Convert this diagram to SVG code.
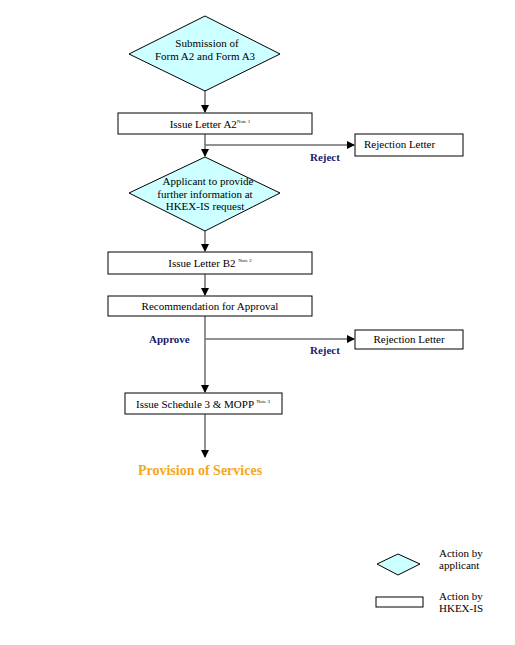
<svg xmlns="http://www.w3.org/2000/svg" width="515" height="645" viewBox="0 0 515 645">
<defs>
<marker id="ah" markerWidth="8" markerHeight="8" refX="7" refY="4" orient="auto" markerUnits="userSpaceOnUse">
<path d="M0,0 L8,4 L0,8 Z" fill="#000"/>
</marker>
<style>
.dia{fill:#CCFFFF;stroke:#000;stroke-width:1}
.box{fill:#fff;stroke:#000;stroke-width:1}
.t{font-size:11px;fill:#000}
.c{text-anchor:middle}
.sup{font-size:5px}
.lbl{font-size:11px;font-weight:bold;fill:#1a1a6e}
.conn{stroke:#6e6e6e;stroke-width:1.5;fill:none}
.prov{font-size:14px;font-weight:bold;fill:#F5A623}
</style>
</defs>
<rect width="515" height="645" fill="#fff"/>
<g font-family="'Liberation Serif', 'DejaVu Serif', serif">
<g id="connectors">
<line class="conn" x1="205" y1="91" x2="205" y2="112" marker-end="url(#ah)"/>
<line class="conn" x1="205" y1="134" x2="205" y2="156" marker-end="url(#ah)"/>
<line class="conn" x1="205" y1="145" x2="354" y2="145" marker-end="url(#ah)"/>
<line class="conn" x1="205" y1="231" x2="205" y2="251" marker-end="url(#ah)"/>
<line class="conn" x1="205" y1="274" x2="205" y2="295" marker-end="url(#ah)"/>
<line class="conn" x1="205" y1="316" x2="205" y2="392" marker-end="url(#ah)"/>
<line class="conn" x1="205" y1="339" x2="354" y2="339" marker-end="url(#ah)"/>
<line class="conn" x1="205" y1="414" x2="205" y2="457" marker-end="url(#ah)"/>
<text class="lbl" x="310" y="161">Reject</text>
<text class="lbl" x="149" y="343">Approve</text>
<text class="lbl" x="310" y="354">Reject</text>
</g>
<g id="submission">
<polygon class="dia" points="205,16 280,54 205,91 129,54"/>
<text class="t c" x="207" y="47">Submission of</text>
<text class="t c" x="205" y="60">Form A2 and Form A3</text>
</g>
<g id="letterA2">
<rect class="box" x="118" y="113" width="194" height="21"/>
<text class="t c" x="210" y="128">Issue Letter A2<tspan class="sup" dy="-5">Note 1</tspan></text>
</g>
<g id="reject1">
<rect class="box" x="355" y="134" width="108" height="22"/>
<text class="t" x="364" y="148">Rejection Letter</text>
</g>
<g id="applicant">
<polygon class="dia" points="205,157 280,193 205,231 129,193"/>
<text class="t c" x="208" y="185">Applicant to provide</text>
<text class="t c" x="205" y="198">further information at</text>
<text class="t c" x="205" y="210">HKEX-IS request</text>
</g>
<g id="letterB2">
<rect class="box" x="108" y="252" width="204" height="22"/>
<text class="t c" x="210" y="267">Issue Letter B2 <tspan class="sup" dy="-5">Note 2</tspan></text>
</g>
<g id="recommend">
<rect class="box" x="108" y="296" width="204" height="20"/>
<text class="t c" x="210" y="310">Recommendation for Approval</text>
</g>
<g id="reject2">
<rect class="box" x="355" y="330" width="108" height="19"/>
<text class="t c" x="409" y="343">Rejection Letter</text>
</g>
<g id="schedule3">
<rect class="box" x="125" y="393" width="157" height="21"/>
<text class="t c" x="203" y="408">Issue Schedule 3 &amp; MOPP <tspan class="sup" dy="-5">Note 3</tspan></text>
</g>
<g id="provision">
<text class="prov c" x="200" y="475">Provision of Services</text>
</g>
<g id="legend-applicant">
<polygon class="dia" points="398,554 420,564 398,575 377,564"/>
<text class="t" x="439" y="557">Action by</text>
<text class="t" x="439" y="569">applicant</text>
</g>
<g id="legend-hkex">
<rect class="box" x="376" y="597" width="47" height="10"/>
<text class="t" x="439" y="600">Action by</text>
<text class="t" x="439" y="612">HKEX-IS</text>
</g>
</g>
</svg>
